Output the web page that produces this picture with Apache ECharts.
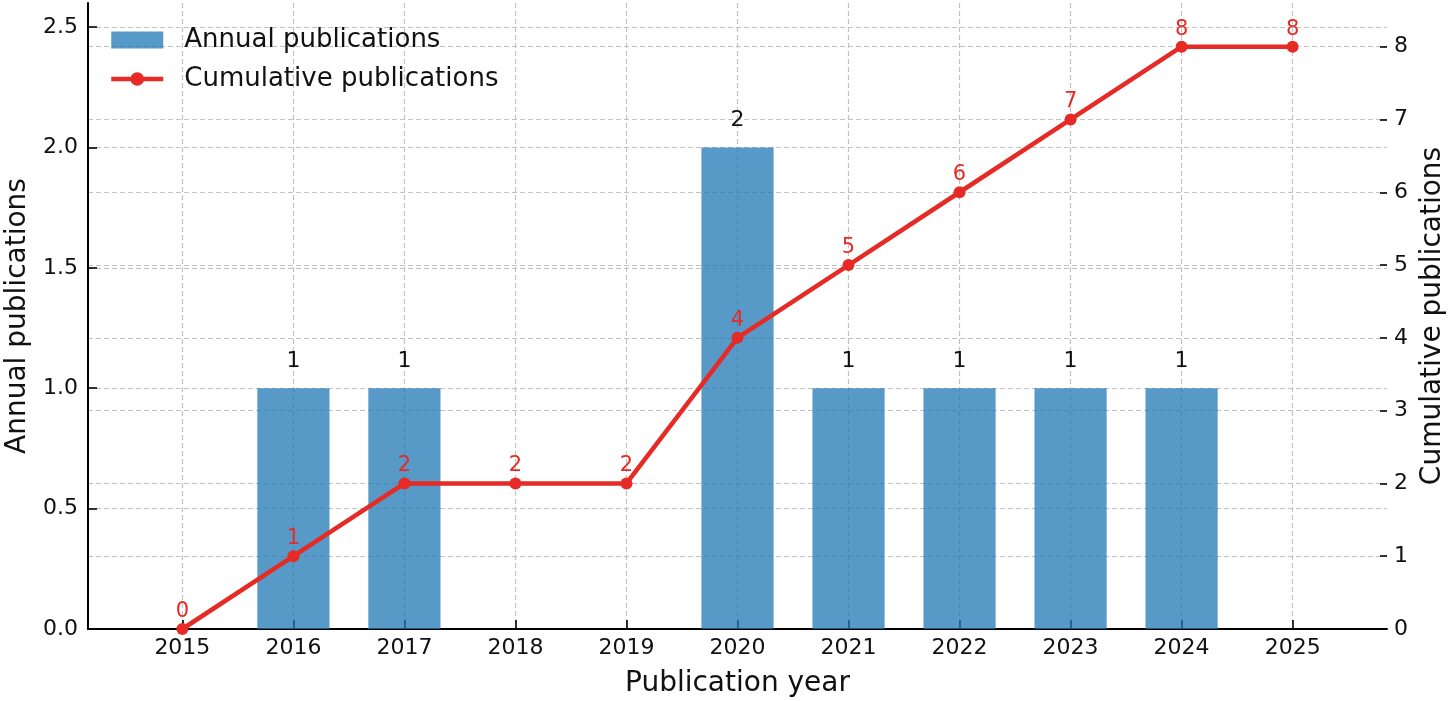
<!DOCTYPE html>
<html><head><meta charset="utf-8">
<script src="https://cdn.jsdelivr.net/npm/echarts@6/dist/echarts.min.js"></script>
<style>html,body{margin:0;padding:0;background:#fff}#c{width:1450px;height:701px}</style>
</head><body><div id="c"></div>
<script>
const years = [2015, 2016, 2017, 2018, 2019, 2020, 2021, 2022, 2023, 2024, 2025];
const annual = [0, 1, 1, 0, 0, 2, 1, 1, 1, 1, 0];
const cumulative = [0, 1, 2, 2, 2, 4, 5, 6, 7, 8, 8];
const leftTicks = [0, 0.5, 1.0, 1.5, 2.0, 2.5];
const rightTicks = [0, 1, 2, 3, 4, 5, 6, 7, 8];

const FONT = 'DejaVu Sans';
const TXT = '#111';
const RED = '#e62a25';
const grid = {type: [5, 3], color: '#c2c2c2', width: 1.2};

const chart = echarts.init(document.getElementById('c'));
chart.setOption({
  animation: false,
  backgroundColor: '#fff',
  textStyle: {fontFamily: FONT},
  grid: {left: 88, right: 63, top: 3, bottom: 72, containLabel: false, outerBoundsMode: 'none'},
  legend: {
    orient: 'vertical', left: 104, top: 22, itemWidth: 52, itemHeight: 17, itemGap: 13,
    textStyle: {fontSize: 26, color: TXT, fontFamily: FONT, padding: [0, 0, 0, 16]},
    data: [
      {name: 'Annual publications', icon: 'rect'},
      {name: 'Cumulative publications', lineStyle: {width: 4.5, color: RED}, itemStyle: {color: RED}}
    ]
  },
  xAxis: {
    type: 'value', min: 2014.15, max: 2025.85,
    name: 'Publication year', nameLocation: 'middle', nameGap: 41,
    nameTextStyle: {fontSize: 28, color: TXT, fontFamily: FONT},
    axisLine: {show: true, onZero: false, lineStyle: {color: '#000', width: 2}},
    axisTick: {show: true, inside: true, length: 9, customValues: years, lineStyle: {color: '#000', width: 1.6}},
    axisLabel: {customValues: years, fontSize: 22, color: TXT, margin: 8, formatter: v => String(v)},
    splitLine: {show: true, lineStyle: grid}
  },
  yAxis: [{
    type: 'value', min: 0, max: 2.6, position: 'left',
    name: 'Annual publications', nameLocation: 'middle', nameGap: 56,
    nameTextStyle: {fontSize: 28, color: TXT, fontFamily: FONT},
    axisLine: {show: true, lineStyle: {color: '#000', width: 2}},
    axisTick: {show: true, inside: true, length: 9, customValues: leftTicks, lineStyle: {color: '#000', width: 1.6}},
    axisLabel: {customValues: leftTicks, fontSize: 22, color: TXT, margin: 10, formatter: v => v.toFixed(1)},
    splitLine: {show: true, lineStyle: grid}
  }, {
    type: 'value', min: 0, max: 8.6, position: 'right',
    name: 'Cumulative publications', nameLocation: 'middle', nameGap: 28,
    nameTextStyle: {fontSize: 28, color: TXT, fontFamily: FONT},
    axisLine: {show: false},
    axisTick: {show: true, inside: true, length: 7, customValues: rightTicks, lineStyle: {color: '#000', width: 1.6}},
    axisLabel: {customValues: rightTicks, fontSize: 22, color: TXT, margin: 7, formatter: v => String(v)},
    splitLine: {show: true, lineStyle: grid}
  }],
  series: [{
    name: 'Annual publications', type: 'bar', yAxisIndex: 0, barWidth: '65%',
    data: years.map((y, i) => [y, annual[i]]),
    itemStyle: {color: 'rgba(31,119,180,0.75)'},
    label: {show: true, position: 'top', distance: 16, fontSize: 22, color: TXT, fontFamily: FONT,
      formatter: p => p.value[1] > 0 ? String(p.value[1]) : ''},
    z: 2
  }, {
    name: 'Cumulative publications', type: 'line', yAxisIndex: 1, clip: false,
    data: years.map((y, i) => [y, cumulative[i]]),
    symbol: 'circle', symbolSize: 12,
    lineStyle: {color: RED, width: 4.5},
    itemStyle: {color: RED},
    label: {show: true, position: 'top', distance: 1, fontSize: 21, color: RED, fontFamily: FONT,
      formatter: p => String(p.value[1])},
    z: 5
  }]
});
</script></body></html>
